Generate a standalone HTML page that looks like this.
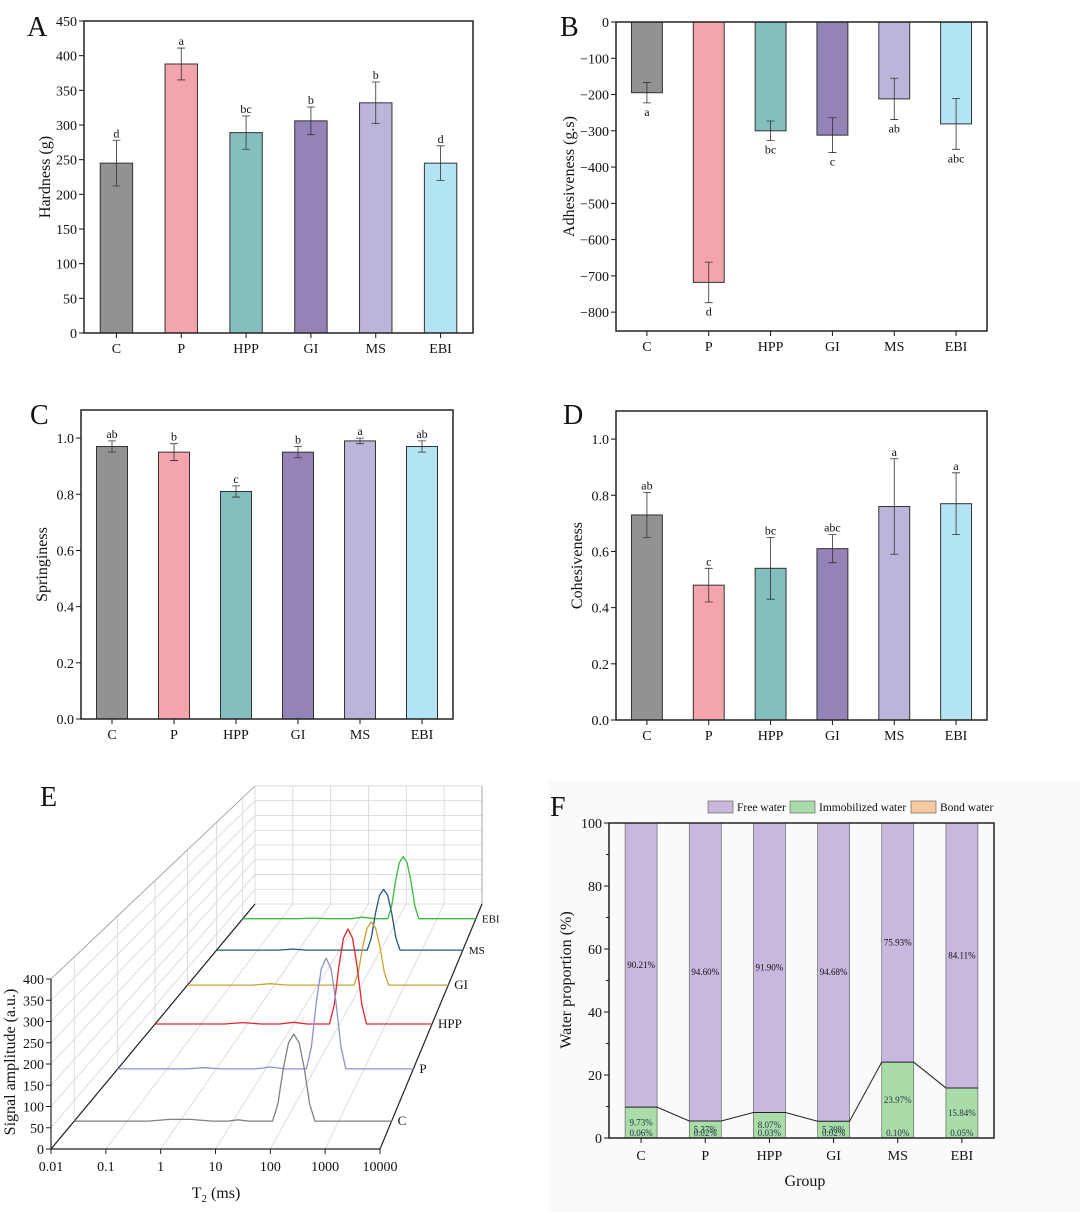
<!DOCTYPE html>
<html><head><meta charset="utf-8"><style>
html,body{margin:0;padding:0;background:#fff}
svg{display:block;font-family:"Liberation Serif",serif}
</style></head><body>
<svg id="fig" width="1080" height="1212" viewBox="0 0 1080 1212" xmlns="http://www.w3.org/2000/svg">
<rect x="548" y="780" width="532" height="432" fill="#fafafa"/>
</svg>
<script>
const groups=["C","P","HPP","GI","MS","EBI"];
const barColors=["#929292","#f4a4ac","#84bfbf","#9483b6","#bdb4d9","#b3e4f3"];
// A hardness
const hardVals=[245,388,289,306,332,245];
const hardErr=[33,23,24,20,30,25];
const hardLet=["d","a","bc","b","b","d"];
const hardTicks=[0,50,100,150,200,250,300,350,400,450];
// B adhesiveness
const adhVals=[-195,-718,-300,-312,-212,-281];
const adhErr=[28,56,27,48,57,70];
const adhLet=["a","d","bc","c","ab","abc"];
const adhTicks=[0,-100,-200,-300,-400,-500,-600,-700,-800];
// C springiness
const sprVals=[0.97,0.95,0.81,0.95,0.99,0.97];
const sprErr=[0.02,0.03,0.02,0.02,0.01,0.02];
const sprLet=["ab","b","c","b","a","ab"];
// D cohesiveness
const cohVals=[0.73,0.48,0.54,0.61,0.76,0.77];
const cohErr=[0.08,0.06,0.11,0.05,0.17,0.11];
const cohLet=["ab","c","bc","abc","a","a"];
const fracTicks=[0,0.2,0.4,0.6,0.8,1.0];
// E LF-NMR
const eTicks=["0.01","0.1","1","10","100","1000","10000"];
const eAmpTicks=[0,50,100,150,200,250,300,350,400];
const eNames=["C","P","HPP","GI","MS","EBI"];
const eDepth=[0.114,0.327,0.51,0.669,0.812,0.94];
const eColors=["#808080","#8c90d2","#e0262c","#c9a232","#205a78","#3cb83c"];
const cLog=[-2,-0.6,-0.2,0.2,0.6,0.9,1.1,1.3,1.75,1.85,1.95,2.05,2.15,2.25,2.35,2.45,2.55,4];
const cAmp=[0,0,4,4,0,0,3,0,0,42,127,191,212,191,127,42,0,0];
const pLog=[-2,-0.6,-0.25,0.1,0.8,1.1,1.4,1.83,1.93,2.03,2.13,2.23,2.33,2.43,2.53,2.63,4];
const pAmp=[0,0,3,0,0,5,0,0,58,174,261,290,261,174,58,0,0];
const hppLog=[-2,-0.5,-0.1,0.3,0.7,1.0,1.3,1.78,1.88,1.98,2.08,2.18,2.28,2.38,2.48,2.58,4];
const hppAmp=[0,0,4,0,0,5,0,0,53,159,239,265,239,159,53,0,0];
const giLog=[-2,-0.5,-0.1,0.3,1.83,1.93,2.03,2.13,2.23,2.33,2.43,2.53,2.63,4];
const giAmp=[0,0,4,0,0,37,112,168,187,168,112,37,0,0];
const msLog=[-2,-0.5,-0.15,0.2,1.67,1.77,1.87,1.97,2.07,2.17,2.27,2.37,2.47,4];
const msAmp=[0,0,3,0,0,38,114,171,190,171,114,38,0,0];
const ebiLog=[-2,-0.6,-0.2,0.2,0.8,1.08,1.4,1.73,1.83,1.93,2.03,2.13,2.23,2.33,2.43,2.53,4];
const ebiAmp=[0,0,2,0,0,5,0,0,41,123,185,205,185,123,41,0,0];
// F water proportion
const freeW=[90.21,94.60,91.90,94.68,75.93,84.11];
const immW=[9.73,5.37,8.07,5.30,23.97,15.84];
const bondW=[0.06,0.02,0.03,0.02,0.10,0.05];
const fTicks=[0,20,40,60,80,100];

const NS="http://www.w3.org/2000/svg";
const svg=document.getElementById('fig');
function el(tag,attrs,parent,text){const e=document.createElementNS(NS,tag);for(const k in attrs)e.setAttribute(k,attrs[k]);if(text!==undefined)e.textContent=text;(parent||svg).appendChild(e);return e;}
function grp(name){const g=el('g',{});return g;}
function txt(parent,x,y,s,size,anchor,name,extra){const t=el('text',Object.assign({x:x,y:y,'font-size':size,'text-anchor':anchor||'middle',fill:'#111'},extra||{}),parent,s);return t;}

function barPanel(id,letter,lx,ly,box,ymin,ymax,ticks,tickFmt,vals,errs,lets,title,titleX){
  const g=grp('panel-'+id);
  txt(g,lx,ly,letter,28,'start','panel-label-'+id);
  const yS=v=>box.b-(v-ymin)/(ymax-ymin)*(box.b-box.t);
  const step=(box.r-box.l)/groups.length;
  const xS=i=>box.l+step*(i+0.5);
  const bw=step*0.5;
  const base=yS(Math.max(ymin,Math.min(0,ymax)));
  vals.forEach((v,i)=>{
    const y=yS(v);
    const r=el('rect',{x:xS(i)-bw/2,y:Math.min(y,base),width:bw,height:Math.abs(base-y),fill:barColors[i],stroke:'#333','stroke-width':1},g);
    
    
    const y1=yS(v+errs[i]),y2=yS(v-errs[i]);
    const eb=el('path',{d:`M${xS(i)},${y1}V${y2}M${xS(i)-4},${y1}h8M${xS(i)-4},${y2}h8`,stroke:'#333','stroke-width':0.8,fill:'none'},g);
    
    
    const ly2=v<0?Math.max(y1,y2)+13:Math.min(y1,y2)-3;
    txt(g,xS(i),ly2,lets[i],12,'middle','significance-letter-'+groups[i].toLowerCase());
    const tk=el('line',{x1:xS(i),x2:xS(i),y1:box.b,y2:box.b+5,stroke:'#111'},g);
    
    txt(g,xS(i),box.b+20,groups[i],14,'middle','x-tick-label');
  });
  ticks.forEach(t=>{
    const y=yS(t);
    const tk=el('line',{x1:box.l-5,x2:box.l,y1:y,y2:y,stroke:'#111'},g);
    
    txt(g,box.l-7,y+5,tickFmt(t),14,'end','y-tick-label');
  });
  const fr=el('rect',{x:box.l,y:box.t,width:box.r-box.l,height:box.b-box.t,fill:'none',stroke:'#222','stroke-width':1.5},g);
  
  const cy=(box.t+box.b)/2;
  txt(g,titleX,cy,title,16,'middle','y-axis-title',{transform:`rotate(-90 ${titleX} ${cy})`});
}
const minus=t=>t<0?'\u2212'+Math.abs(t):String(t);
barPanel('a','A',27,36,{l:84,r:473,t:21,b:333},0,450,hardTicks,String,hardVals,hardErr,hardLet,'Hardness (g)',50);
barPanel('b','B',560,36,{l:616,r:987,t:22,b:331},-852,0,adhTicks,minus,adhVals,adhErr,adhLet,'Adhesiveness (g.s)',574);
barPanel('c','C',30,424,{l:81,r:453,t:410,b:719},0,1.1,fracTicks,t=>t.toFixed(1),sprVals,sprErr,sprLet,'Springiness',47);
barPanel('d','D',563,424,{l:616,r:987,t:411,b:720},0,1.1,fracTicks,t=>t.toFixed(1),cohVals,cohErr,cohLet,'Cohesiveness',582);

// Panel E
(function(){
  const g=grp('panel-e');
  txt(g,40,806,'E',28,'start','panel-label-e');
  const F={x0:51,x1:380,y:1149,h:170}, B={x0:255,x1:482,y:904,h:118};
  const L=(a,b,t)=>a+(b-a)*t;
  const P=(t,lg,amp)=>{const x0=L(F.x0,B.x0,t),x1=L(F.x1,B.x1,t),yb=L(F.y,B.y,t),h=L(F.h,B.h,t);return [x0+(lg+2)/6*(x1-x0),yb-amp/400*h];};
  const grid='#d4d4d4';
  function line(a,b,c,w,name){const l=el('line',{x1:a[0],y1:a[1],x2:b[0],y2:b[1],stroke:c,'stroke-width':w||0.8},g);}
  eAmpTicks.forEach(a=>line(P(1,-2,a),P(1,4,a),grid,0.8,'back-wall-gridline'));
  eTicks.forEach((s,i)=>line(P(1,i-2,0),P(1,i-2,400),grid,0.8,'back-wall-gridline'));
  eAmpTicks.forEach(a=>line(P(0,-2,a),P(1,-2,a),grid,0.8,'left-wall-gridline'));
  eDepth.forEach(t=>line(P(t,-2,0),P(t,-2,400),grid,0.8,'left-wall-gridline'));
  eTicks.forEach((s,i)=>line(P(0,i-2,0),P(1,i-2,0),grid,0.8,'floor-gridline'));
  line(P(0,-2,400),P(1,-2,400),'#999',0.8,'left-wall-top-edge');
  line(P(1,4,0),P(1,4,400),'#999',0.8,'back-wall-right-edge');
  line(P(0,-2,0),P(1,-2,0),'#222',1.2,'floor-left-edge');
  line(P(0,4,0),P(1,4,0),'#222',1.2,'floor-right-edge');
  const logs=[cLog,pLog,hppLog,giLog,msLog,ebiLog], amps=[cAmp,pAmp,hppAmp,giAmp,msAmp,ebiAmp];
  for(let s=eNames.length-1;s>=0;s--){
    const t=eDepth[s];
    const pts=logs[s].map((lg,k)=>P(t,lg,amps[s][k]));
    const pl=el('polyline',{points:pts.map(p=>p[0].toFixed(1)+','+p[1].toFixed(1)).join(' '),fill:'none',stroke:eColors[s],'stroke-width':1.3,'stroke-linejoin':'round'},g);
    
    
    const e=P(t,4,0);
    txt(g,e[0]+6,e[1]+4,eNames[s],t>0.7?11:13,'start','series-label-'+eNames[s].toLowerCase());
  }
  line(P(0,-2,0),P(0,-2,400),'#222',1.2,'y-axis');
  line(P(0,-2,0),P(0,4,0),'#222',1.2,'x-axis');
  eAmpTicks.forEach(a=>{const p=P(0,-2,a);line(p,[p[0]-5,p[1]],'#222',1,'y-tick');txt(g,p[0]-7,p[1]+5,String(a),14,'end','y-tick-label');});
  eTicks.forEach((s,i)=>{const p=P(0,i-2,0);line(p,[p[0],p[1]+5],'#222',1,'x-tick');txt(g,p[0],p[1]+22,s,14,'middle','x-tick-label');});
  const xt=txt(g,216,1198,'T',16,'middle','x-axis-title');
  const sub=el('tspan',{'font-size':11,dy:4},xt,'2');
  const rest=el('tspan',{dy:-4},xt,' (ms)');
  txt(g,15,1062,'Signal amplitude (a.u.)',16,'middle','y-axis-title',{transform:'rotate(-90 15 1062)'});
})();

// Panel F
(function(){
  const g=grp('panel-f');
  txt(g,550,816,'F',28,'start','panel-label-f');
  const box={l:609,r:994,t:823,b:1138};
  const yS=v=>box.b-v/100*(box.b-box.t);
  const step=(box.r-box.l)/groups.length;
  const xS=i=>box.l+step*(i+0.5);
  const bw=32;
  const cFree='#c9b8dd',cImm='#a9dca9',cBond='#f8c89e';
  groups.forEach((name,i)=>{
    const b0=yS(0),b1=yS(bondW[i]),b2=yS(bondW[i]+immW[i]),b3=yS(bondW[i]+immW[i]+freeW[i]);
    const segs=[[b1,b0,cBond,'bond-water'],[b2,b1,cImm,'immobilized-water'],[b3,b2,cFree,'free-water']];
    segs.forEach(s=>{const r=el('rect',{x:xS(i)-bw/2,y:s[0],width:bw,height:Math.max(0,s[1]-s[0]),fill:s[2],stroke:'#555','stroke-width':0.6},g);
      });
    txt(g,xS(i),(b3+b2)/2+3,freeW[i].toFixed(2)+'%',9,'middle','free-water-value');
    txt(g,xS(i),(b2+b1)/2+3,immW[i].toFixed(2)+'%',9,'middle','immobilized-water-value',{fill:'#234'});
    txt(g,xS(i),b0-2,bondW[i].toFixed(2)+'%',9,'middle','bond-water-value',{fill:'#234'});
    const tk=el('line',{x1:xS(i),x2:xS(i),y1:box.b,y2:box.b+5,stroke:'#111'},g);
    txt(g,xS(i),box.b+22,name,14,'middle','x-tick-label');
  });
  let d='';
  groups.forEach((n,i)=>{const y=yS(bondW[i]+immW[i]);d+=(i?'L':'M')+(xS(i)-bw/2)+','+y+'L'+(xS(i)+bw/2)+','+y;});
  const cl=el('path',{d:d,fill:'none',stroke:'#222','stroke-width':1},g);
  fTicks.forEach(t=>{const y=yS(t);const tk=el('line',{x1:box.l-5,x2:box.l,y1:y,y2:y,stroke:'#111'},g);
    txt(g,box.l-7,y+5,String(t),14,'end','y-tick-label');
    if(t<100){const m=yS(t+10);const mt=el('line',{x1:box.l-3,x2:box.l,y1:m,y2:m,stroke:'#111'},g);}});
  const fr=el('rect',{x:box.l,y:box.t,width:box.r-box.l,height:box.b-box.t,fill:'none',stroke:'#222','stroke-width':1.5},g);
  
  txt(g,805,1186,'Group',16,'middle','x-axis-title');
  txt(g,571,980,'Water proportion (%)',16,'middle','y-axis-title',{transform:'rotate(-90 571 980)'});
  const leg=[['Free water',708,cFree],['Immobilized water',790,cImm],['Bond water',911,cBond]];
  leg.forEach(l=>{const r=el('rect',{x:l[1],y:801,width:25,height:12,fill:l[2],stroke:'#555','stroke-width':0.6},g);
    
    txt(g,l[1]+29,811,l[0],11.5,'start','legend-entry');});
})();
</script>
</body></html>
